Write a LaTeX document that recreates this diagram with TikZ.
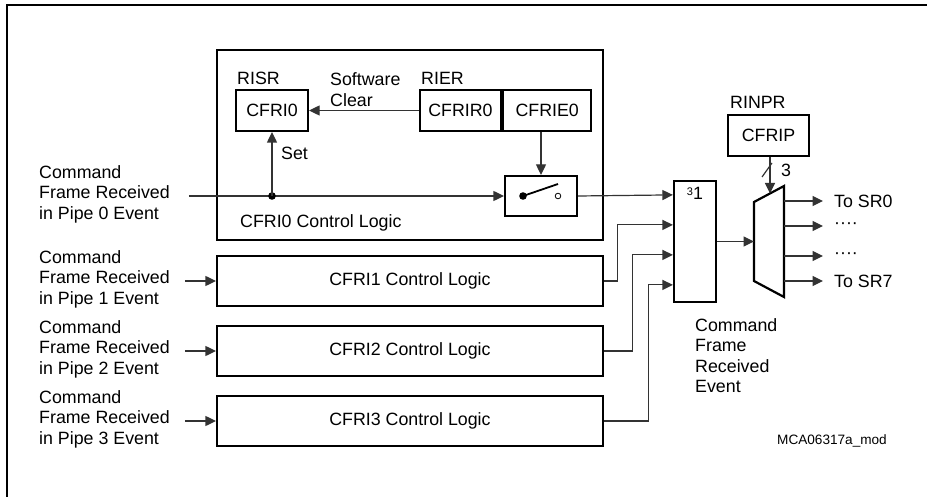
\documentclass[tikz,border=0pt]{standalone}
\usepackage{fontspec}
\setmainfont{Liberation Sans}
\usetikzlibrary{arrows.meta,positioning}

\begin{document}
\begin{tikzpicture}[
    x=1pt, y=-1pt,
    font=\fontsize{17.8}{20.5}\selectfont,
    box/.style={draw=black, line width=2.2pt, inner sep=0pt, align=center},
    lbl/.style={anchor=west, inner sep=0pt, align=left},
    wire/.style={line width=1.2pt, draw=black!80},
    arrow/.style={-{Triangle[length=10.5pt,width=10pt]}, line width=1.2pt, draw=black!80}
]
\useasboundingbox (0,0) rectangle (927,497);
\draw[line width=2pt] (927,4.7) -| (6.7,497);

\node[box, minimum width=386, minimum height=190] (blk0) at (410,145) {};
\node[box, minimum width=386, minimum height=50] (blk1) at (410,281) {CFRI1 Control Logic};
\node[box, minimum width=386, minimum height=50] (blk2) at (410,351) {CFRI2 Control Logic};
\node[box, minimum width=386, minimum height=50] (blk3) at (410,421) {CFRI3 Control Logic};
\node[lbl] (cl0) at (240,223) {CFRI0 Control Logic};

\node[box, minimum width=72, minimum height=41] (isr) at (272,110.5) {CFRI0};
\node[lbl, anchor=south west] (risr) at (237,85) {RISR};
\node[box, minimum width=81, minimum height=41] (ierr) at (460.5,110.5) {CFRIR0};
\node[box, minimum width=88, minimum height=41, right=0pt of ierr] (iere) {CFRIE0};
\node[lbl, anchor=south west] (rier) at (421,85) {RIER};
\node[lbl] (swclr) at (330,89.5) {Software\\Clear};
\draw[arrow] (ierr.west) -- (isr.east);

\node[box, minimum width=72, minimum height=40] (sw) at (541,196) {};
\coordinate (pivot) at (523,196);
\coordinate (lever) at (558,184);
\draw[line width=1.8pt] (pivot) -- (lever);
\fill (pivot) circle (3.8pt);
\draw[line width=0.8pt, fill=white] (558,196) circle (2.8pt);
\draw[arrow] (sw.north |- iere.south) -- (sw.north);

\node[lbl] (in0) at (39,194) {Command\\Frame Received\\in Pipe 0 Event};
\node[lbl] (in1) at (39,279) {Command\\Frame Received\\in Pipe 1 Event};
\node[lbl] (in2) at (39,349) {Command\\Frame Received\\in Pipe 2 Event};
\node[lbl] (in3) at (39,419) {Command\\Frame Received\\in Pipe 3 Event};

\coordinate (tap) at (272,196);
\path (in0.east |- tap) ++(19,0) coordinate (src0);
\draw[wire] (src0) -- (tap);
\draw[arrow] (tap) -- (sw.west);
\fill (tap) circle (3.8pt);
\draw[arrow] (tap) -- (isr.south);
\node[lbl] (set) at (281,153) {Set};

\draw[arrow] ([xshift=15pt]in1.east |- blk1.west) -- (blk1.west);
\draw[arrow] ([xshift=15pt]in2.east |- blk2.west) -- (blk2.west);
\draw[arrow] ([xshift=15pt]in3.east |- blk3.west) -- (blk3.west);

\node[box, minimum width=42, minimum height=121] (orgate) at (695,241.5) {};
\node[anchor=north, inner sep=0pt] (orlbl) at ([yshift=-7pt]orgate.north) {{\fontsize{11}{11}\selectfont\raisebox{4pt}{3}}1};
\foreach \k in {0,...,3}
  \path (orgate.north west) ++(0,15+30*\k) coordinate (or\k);
\draw[arrow] (sw.east) -- (or0);
\draw[arrow] (blk1.east) -- ++(13,0) |- (or1);
\draw[arrow] (blk2.east) -- ++(28,0) |- (or2);
\draw[arrow] (blk3.east) -- ++(44,0) |- (or3);

\draw[line width=2.2pt, line join=miter] (754,202) -- (784,186) -- (784,297) -- (754,281) -- cycle;
\coordinate (muxin) at (754,241.5);
\coordinate (muxsel) at (770,193.5);
\draw[arrow] (orgate.east) -- (muxin);

\node[box, minimum width=81, minimum height=41] (cfrip) at (768.5,135.5) {CFRIP};
\node[lbl, anchor=south west] (rinpr) at (730,108.5) {RINPR};
\draw[arrow] (muxsel |- cfrip.south) -- (muxsel);
\draw[wire] (762,177) -- (772,163);
\node (width) at (786,170) [inner sep=0pt] {3};

\node[lbl] (sr0) at (834,201) {To SR0};
\node[lbl] (dotsa) at (834,226) {····};
\node[lbl] (dotsb) at (834,256) {····};
\node[lbl] (sr7) at (834,281) {To SR7};
\foreach \n in {sr0,dotsa,dotsb,sr7}
  \draw[arrow] ([xshift=-50pt]\n.west) -- ([xshift=-11pt]\n.west);

\node[lbl, anchor=north west] (cfre) at (695,318) {Command\\Frame\\Received\\Event};
\node[lbl, font=\fontsize{13.6}{16}\selectfont] (figid) at (777,441) {MCA06317a\_mod};
\end{tikzpicture}
\end{document}
